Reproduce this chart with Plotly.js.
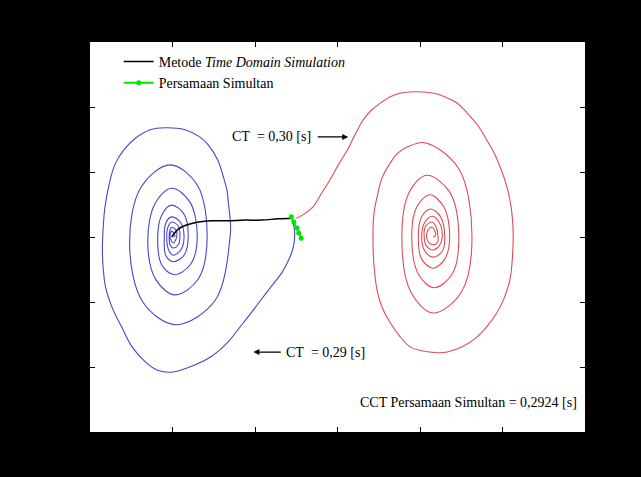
<!DOCTYPE html>
<html>
<head>
<meta charset="utf-8">
<script src="https://cdn.plot.ly/plotly-3.0.1.min.js"></script>
<style>html,body{margin:0;padding:0;background:#000;}#chart{width:641px;height:477px;}</style>
</head>
<body>
<div id="chart"></div>
<script>
// Time domain simulation: fault-on trajectory (black)
const tdsDelta = [0.99, 1.07, 1.16, 1.27, 1.48, 1.67, 1.88, 2.08, 2.28, 2.45];
const tdsOmega = [0.00, 0.12, 0.18, 0.22, 0.25, 0.25, 0.26, 0.26, 0.28, 0.29];

// Simultaneous equations (green)
const simDelta = [2.44, 2.47, 2.51, 2.53, 2.56];
const simOmega = [0.31, 0.23, 0.14, 0.06, -0.02];

// CT = 0,29 s post-fault trajectory (blue, stable)
const stableDelta = [2.45,2.48,2.47,2.42,2.33,2.16,2.00,1.84,1.67,1.48,1.27,0.99,0.82,0.67,0.51,0.39,0.27,0.19,0.16,0.15,0.16,0.18,0.23,0.30,0.41,0.55,0.73,0.91,1.15,1.33,1.43,1.55,1.61,1.66,1.68,1.70,
  1.70,1.52,1.04,0.64,0.48,0.62,0.97,1.30,1.42,1.31,1.03,0.80,0.70,0.79,0.99,1.21,1.30,1.22,1.02,0.87,0.82,0.87,0.99,1.14,1.19,1.14,1.01,0.92,0.90,0.92,0.99,1.10,1.14,1.10,1.01,0.96,0.93,0.95,0.99,1.07,1.09,1.07,1.01,0.97,0.96,0.97,0.99,1.04,1.05,1.01,0.97,0.99,1.03,1.01];
const stableOmega = [0.29,0.08,-0.12,-0.32,-0.54,-0.82,-1.09,-1.35,-1.62,-1.83,-1.97,-2.08,-2.05,-1.92,-1.69,-1.40,-1.09,-0.78,-0.48,-0.17,0.14,0.45,0.80,1.11,1.34,1.52,1.65,1.68,1.65,1.54,1.42,1.18,0.95,0.72,0.49,0.26,
  0.03,-0.97,-1.35,-1.00,-0.09,0.77,1.11,0.80,0.00,-0.65,-0.89,-0.66,-0.08,0.52,0.75,0.54,0.00,-0.42,-0.58,-0.43,-0.05,0.34,0.49,0.35,0.00,-0.28,-0.38,-0.29,-0.03,0.22,0.31,0.22,0.00,-0.20,-0.28,-0.22,-0.02,0.17,0.23,0.17,0.00,-0.12,-0.17,-0.12,0.00,0.11,0.15,0.11,0.00,-0.09,0.00,0.09,0.02,0.00];

// CT = 0,30 s post-fault trajectory (red, slips to next equilibrium)
const unstableDelta = [2.50,2.58,2.70,2.81,2.91,3.01,3.12,3.21,3.31,3.41,3.52,3.66,3.79,4.04,4.21,4.33,4.46,4.57,4.70,4.81,4.90,4.97,5.04,5.09,5.12,5.13,5.12,5.09,5.02,4.93,4.81,4.69,4.51,4.33,4.21,4.02,3.88,3.75,3.64,3.54,3.48,3.44,3.43,3.44,3.48,3.54,3.64,3.73,3.84,
  4.06,4.47,4.63,4.50,4.16,3.89,3.78,3.87,4.08,4.36,4.47,4.39,4.17,3.98,3.90,3.96,4.12,4.29,4.36,4.30,4.16,4.02,3.98,4.02,4.13,4.25,4.30,4.27,4.16,4.06,4.02,4.06,4.15,4.23,4.27,4.23,4.16,4.08,4.05,4.07,4.15,4.19,4.22,4.21,4.16,4.11,4.08,4.10,4.15,4.19,4.16];
const unstableOmega = [0.29,0.34,0.46,0.68,0.88,1.11,1.34,1.57,1.80,1.95,2.06,2.17,2.22,2.23,2.20,2.14,2.05,1.91,1.72,1.49,1.29,1.08,0.83,0.57,0.29,0.00,-0.32,-0.66,-0.94,-1.17,-1.38,-1.54,-1.69,-1.77,-1.78,-1.75,-1.69,-1.52,-1.32,-1.08,-0.82,-0.40,0.00,0.34,0.62,0.91,1.14,1.29,1.38,
  1.45,1.05,0.00,-0.85,-1.17,-0.85,0.00,0.69,0.95,0.69,0.00,-0.57,-0.78,-0.57,0.00,0.46,0.65,0.46,0.00,-0.34,-0.48,-0.34,0.00,0.31,0.43,0.31,0.00,-0.22,-0.31,-0.22,0.00,0.23,0.32,0.23,0.00,-0.14,-0.20,-0.14,0.00,0.17,0.23,0.17,0.00,-0.09,-0.12,-0.09,0.00,0.11,0.15,0.03,0.00];

const serif = '"Liberation Serif", "Times New Roman", serif';

const traces = [
  {x: stableDelta, y: stableOmega, mode: 'lines', line: {color: 'rgb(70,70,205)', width: 1.1, shape: 'spline'}, showlegend: false, hoverinfo: 'skip'},
  {x: unstableDelta, y: unstableOmega, mode: 'lines', line: {color: 'rgb(225,75,85)', width: 1.1, shape: 'spline'}, showlegend: false, hoverinfo: 'skip'},
  {x: tdsDelta, y: tdsOmega, mode: 'lines', name: 'Metode <i>Time Domain Simulation</i>', line: {color: 'black', width: 1.5, shape: 'spline'}},
  {x: simDelta, y: simOmega, mode: 'lines+markers', name: 'Persamaan Simultan', line: {color: 'rgb(0,230,0)', width: 2}, marker: {color: 'rgb(0,230,0)', size: 5, symbol: 'circle'}}
];

const layout = {
  width: 641, height: 477,
  paper_bgcolor: 'black', plot_bgcolor: 'white',
  margin: {l: 90, r: 56, t: 42, b: 45},
  font: {family: serif, size: 14, color: 'black'},
  xaxis: {range: [0, 6], dtick: 1, tick0: 0, ticks: 'inside', ticklen: 5, tickcolor: 'black', showticklabels: false,
          showgrid: false, zeroline: false, showline: true, linecolor: 'black', mirror: 'ticks'},
  yaxis: {range: [-3, 3], dtick: 1, tick0: 0, ticks: 'inside', ticklen: 5, tickcolor: 'black', showticklabels: false,
          showgrid: false, zeroline: false, showline: true, linecolor: 'black', mirror: 'ticks'},
  legend: {x: 0.058, y: 0.99, xanchor: 'left', yanchor: 'top', bgcolor: 'rgba(0,0,0,0)', tracegroupgap: 0,
           font: {family: serif, size: 14, color: 'black'}},
  annotations: [
    {x: 2.2, y: 1.54, text: 'CT&nbsp;&nbsp;= 0,30 [s]', showarrow: false, font: {family: serif, size: 14, color: 'black'}},
    {x: 3.13, y: 1.54, ax: -32, ay: 0, text: '', showarrow: true, arrowhead: 2, arrowsize: 1, arrowwidth: 1.2, arrowcolor: 'black'},
    {x: 2.86, y: -1.77, text: 'CT&nbsp;&nbsp;= 0,29 [s]', showarrow: false, font: {family: serif, size: 14, color: 'black'}},
    {x: 1.98, y: -1.77, ax: 29, ay: 0, text: '', showarrow: true, arrowhead: 2, arrowsize: 1, arrowwidth: 1.2, arrowcolor: 'black'},
    {x: 4.59, y: -2.55, text: 'CCT Persamaan Simultan = 0,2924 [s]', showarrow: false, font: {family: serif, size: 14, color: 'black'}}
  ]
};

Plotly.newPlot('chart', traces, layout, {displayModeBar: false, staticPlot: true});
</script>
</body>
</html>
